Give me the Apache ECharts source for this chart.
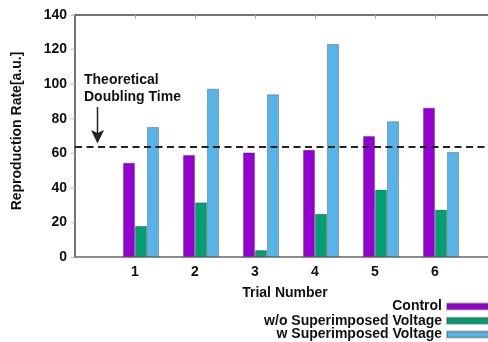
<!DOCTYPE html>
<html>
<head>
<meta charset="utf-8">
<script src="https://cdn.jsdelivr.net/npm/echarts@6/dist/echarts.min.js"></script>
<style>
html,body{margin:0;padding:0;background:#fff;}
#c{width:488px;height:342px;}
</style>
</head>
<body>
<div id="c"></div>
<script>
// Data
var categories = ['0', '1', '2', '3', '4', '5', '6', '7'];
var seriesNames = ['Control', 'w/o Superimposed Voltage', 'w Superimposed Voltage'];
var control = [null, 54.5, 59, 60.5, 62, 70, 86.4, null];
var withoutVoltage = [null, 18, 31.6, 4, 25, 39, 27.4, null];
var withVoltage = [null, 75.2, 97.4, 94.1, 123.2, 78.5, 60.7, null];
var doublingTime = 64;
var yTicks = [0, 20, 40, 60, 80, 100, 120, 140];
var annotationLines = ['Theoretical', 'Doubling Time'];

var FONT = '"Liberation Sans", Arial, Helvetica, sans-serif';
var chart = echarts.init(document.getElementById('c'), null, {renderer: 'canvas'});

var barBorder = {borderColor: 'rgba(50,50,50,0.35)', borderWidth: 1};
var legendTops = [299.5, 313.8, 327.6];

var option = {
  animation: false,
  textStyle: {fontFamily: FONT},
  grid: {left: 75, right: -7, top: 15, bottom: 85, containLabel: false, outerBoundsMode: 'none'},
  legend: seriesNames.map(function (n, i) {
    return {
      data: [n],
      orient: 'vertical',
      align: 'right',
      right: -4,
      top: legendTops[i],
      padding: 0,
      itemWidth: 44,
      itemHeight: 6,
      icon: 'rect',
      selectedMode: false,
      textStyle: {fontFamily: FONT, fontWeight: 'bold', fontSize: 14, color: '#111'}
    };
  }),
  xAxis: [{
    type: 'category',
    data: categories,
    boundaryGap: false,
    position: 'bottom',
    name: 'Trial Number',
    nameLocation: 'middle',
    nameGap: 29,
    nameTextStyle: {fontFamily: FONT, fontWeight: 'bold', fontSize: 14, color: '#111'},
    axisLine: {show: true, lineStyle: {color: '#666', width: 1.5}},
    axisTick: {show: false},
    axisLabel: {
      margin: 8,
      fontFamily: FONT, fontWeight: 'bold', fontSize: 14, color: '#111',
      formatter: function (v) { return (v === '0' || v === '7') ? '' : v; }
    },
    splitLine: {show: false}
  }, {
    type: 'category',
    data: categories,
    boundaryGap: false,
    position: 'top',
    axisLine: {show: true, lineStyle: {color: '#444', width: 1.5}},
    axisTick: {show: true, inside: true, length: 4, lineStyle: {color: '#aaa'},
      interval: function (i) { return i > 0 && i < 7; }},
    axisLabel: {show: false},
    splitLine: {show: false}
  }],
  yAxis: {
    type: 'value',
    min: 0, max: 140, interval: 20,
    name: 'Reproduction Rate[a.u.]',
    nameLocation: 'middle',
    nameGap: 51,
    nameRotate: 90,
    nameTextStyle: {fontFamily: FONT, fontWeight: 'bold', fontSize: 14, color: '#111', padding: [0, 0, 0, 10]},
    axisLine: {show: true, lineStyle: {color: '#444', width: 1.5}},
    axisTick: {show: true, inside: false, length: 4, lineStyle: {color: '#bbb'}},
    axisLabel: {
      margin: 8, fontFamily: FONT, fontWeight: 'bold', fontSize: 14, color: '#111',
      formatter: function (v) { return yTicks.indexOf(v) >= 0 ? String(v) : ''; }
    },
    splitLine: {show: false}
  },
  series: [
    {name: '_spacer', type: 'bar', data: categories.map(function () { return '-'; }),
     barWidth: 12, barGap: '0%', silent: true},
    {name: seriesNames[0], type: 'bar', data: control, barWidth: 12, barGap: '0%',
     itemStyle: Object.assign({color: '#9400D3'}, barBorder),
     markLine: {
       silent: true, symbol: 'none', z: 10,
       label: {show: false},
       lineStyle: {color: '#222', width: 1.8, type: [7, 4.5]},
       data: [{yAxis: doublingTime}]
     }},
    {name: seriesNames[1], type: 'bar', data: withoutVoltage, barWidth: 12, barGap: '0%',
     itemStyle: Object.assign({color: '#009E73'}, barBorder)},
    {name: seriesNames[2], type: 'bar', data: withVoltage, barWidth: 12, barGap: '0%',
     itemStyle: Object.assign({color: '#56B4E9'}, barBorder)}
  ],
  graphic: [
    {type: 'text', left: 84, top: 72, style: {text: annotationLines.join('\n'), font: 'bold 14px ' + FONT, fill: '#111', lineHeight: 17}},
    {type: 'line', shape: {x1: 97.5, y1: 107, x2: 97.5, y2: 133}, style: {stroke: '#222', lineWidth: 1.5}},
    {type: 'polygon', shape: {points: [[91, 130], [97.5, 133], [104, 130], [97.5, 143.5]]}, style: {fill: '#222'}}
  ]
};
chart.setOption(option);
</script>
</body>
</html>
